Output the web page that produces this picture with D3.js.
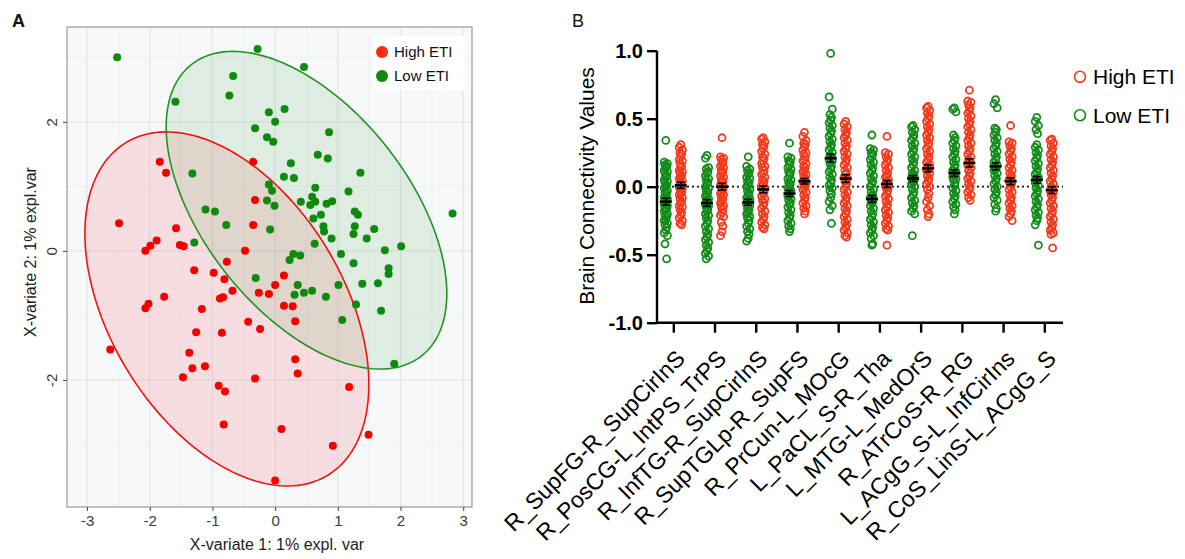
<!DOCTYPE html>
<html><head><meta charset="utf-8">
<script src="https://cdn.jsdelivr.net/npm/d3@7"></script>
<style>body{margin:0;background:#fff}svg{display:block;font-family:"Liberation Sans",Arial,sans-serif}</style>
</head><body>
<svg id="c" width="1185" height="559"></svg>
<script>
// ---------- Panel A data ----------
const xTicksA = [-3, -2, -1, 0, 1, 2, 3];
const yTicksA = [-2, 0, 2];
const groupsA = ["High ETI", "Low ETI"];
const highX = [-1.84,-1.74,-0.35,-0.32,-2.49,-1.58,-0.35,-1.89,-1.99,-2.07,-1.52,-1.46,-0.48,-0.77,-1.29,-0.98,-0.81,0.14,0.00,-0.68,-0.26,-0.10,-1.77,-2.02,-2.07,-0.88,-0.83,-1.17,0.14,0.28,0.32,-0.43,-0.24,-1.26,-0.85,-2.63,-1.37,-1.32,-1.12,-1.47,0.32,0.36,-0.32,-0.90,-0.80,1.18,-0.82,0.10,1.49,0.92,0.00];
const highY = [1.38,1.21,1.38,0.79,0.43,0.35,0.40,0.16,0.08,0.00,0.09,0.07,0.00,-0.17,-0.30,-0.34,-0.44,-0.38,-0.53,-0.62,-0.65,-0.67,-0.71,-0.82,-0.89,-0.74,-0.72,-0.90,-0.85,-0.86,-1.09,-1.10,-1.21,-1.26,-1.27,-1.53,-1.58,-1.82,-1.79,-1.96,-1.68,-1.90,-1.98,-2.09,-2.18,-2.11,-2.69,-2.76,-2.85,-3.02,-3.56];
const lowX = [-2.52,-0.28,0.46,-0.67,-1.59,-0.73,-0.10,0.15,0.00,-0.32,0.86,-0.13,-0.03,0.68,0.84,0.25,1.36,-1.32,0.14,0.30,-0.10,-0.05,0.64,1.17,-0.13,-0.01,0.41,0.59,0.56,0.64,0.82,0.91,-1.11,-0.96,1.27,1.32,0.61,0.73,-0.78,0.77,0.78,1.27,1.25,1.58,-0.08,2.83,0.90,1.46,-1.29,0.63,2.01,1.75,0.29,0.40,0.23,1.05,1.25,1.81,1.81,-0.31,0.36,1.39,1.64,1.01,0.31,0.46,0.59,0.81,1.29,1.69,1.07,1.90];
const lowY = [3.00,3.13,2.85,2.71,2.31,2.41,2.15,2.20,2.00,1.90,1.84,1.76,1.69,1.49,1.43,1.36,1.21,1.20,1.15,1.13,1.03,0.93,0.98,0.92,0.78,0.70,0.76,0.84,0.71,0.76,0.73,0.77,0.64,0.61,0.61,0.56,0.50,0.56,0.40,0.38,0.30,0.38,0.26,0.34,0.33,0.58,0.19,0.19,0.13,0.11,0.07,0.01,-0.05,-0.07,-0.14,-0.05,-0.19,-0.27,-0.36,-0.42,-0.53,-0.51,-0.50,-0.53,-0.68,-0.65,-0.62,-0.71,-0.83,-0.93,-1.07,-1.75];
// ellipse: centre x, centre y, var x, cov xy, var y (already scaled to boundary)
const highEllipse = [-0.77, -0.90, 5.13, -2.65, 7.53];
const lowEllipse = [0.50, 0.63, 5.01, -2.89, 6.06];

// ---------- Panel B data ----------
const categories = ["R_SupFG-R_SupCirInS","R_PosCG-L_IntPS_TrPS","R_InfTG-R_SupCirInS","R_SupTGLp-R_SupFS","R_PrCun-L_MOcG","L_PaCL_S-R_Tha","L_MTG-L_MedOrS","R_ATrCoS-R_RG","L_ACgG_S-L_InfCirIns","R_CoS_LinS-L_ACgG_S"];
const groupsB = ["High ETI", "Low ETI"];
const yTicksB = [-1.0, -0.5, 0.0, 0.5, 1.0];
const lowValues = [
 [0.34,0.18,0.17,0.16,0.15,0.14,0.12,0.11,0.10,0.08,0.07,0.05,0.04,0.03,0.01,0.00,-0.01,-0.03,-0.04,-0.05,-0.07,-0.08,-0.09,-0.10,-0.11,-0.12,-0.13,-0.14,-0.15,-0.16,-0.17,-0.18,-0.20,-0.21,-0.22,-0.24,-0.25,-0.27,-0.28,-0.30,-0.32,-0.34,-0.36,-0.42,-0.53],
 [0.23,0.21,0.14,0.13,0.11,0.10,0.08,0.06,0.05,0.03,0.02,0.00,-0.01,-0.03,-0.04,-0.06,-0.07,-0.09,-0.10,-0.11,-0.12,-0.13,-0.14,-0.15,-0.17,-0.18,-0.20,-0.21,-0.23,-0.25,-0.27,-0.29,-0.31,-0.33,-0.35,-0.37,-0.39,-0.41,-0.43,-0.45,-0.47,-0.49,-0.51,-0.53],
 [0.22,0.15,0.13,0.12,0.10,0.09,0.07,0.06,0.04,0.03,0.01,0.00,-0.02,-0.03,-0.05,-0.06,-0.08,-0.09,-0.10,-0.11,-0.12,-0.13,-0.14,-0.16,-0.17,-0.19,-0.20,-0.22,-0.23,-0.25,-0.27,-0.29,-0.31,-0.33,-0.35,-0.38,-0.40],
 [0.32,0.22,0.21,0.19,0.18,0.16,0.14,0.13,0.11,0.10,0.08,0.06,0.05,0.03,0.02,0.00,-0.01,-0.03,-0.04,-0.05,-0.06,-0.07,-0.09,-0.10,-0.12,-0.13,-0.15,-0.17,-0.19,-0.21,-0.23,-0.25,-0.27,-0.29,-0.31,-0.33],
 [0.98,0.66,0.57,0.53,0.51,0.49,0.47,0.45,0.43,0.41,0.39,0.37,0.35,0.33,0.31,0.29,0.27,0.25,0.23,0.22,0.21,0.20,0.19,0.17,0.15,0.13,0.11,0.09,0.07,0.05,0.03,0.01,-0.01,-0.03,-0.05,-0.08,-0.11,-0.14,-0.17,-0.27],
 [0.38,0.28,0.27,0.25,0.24,0.22,0.20,0.18,0.16,0.14,0.12,0.10,0.08,0.06,0.04,0.02,0.00,-0.02,-0.04,-0.06,-0.07,-0.08,-0.09,-0.10,-0.11,-0.12,-0.14,-0.16,-0.18,-0.20,-0.22,-0.24,-0.26,-0.28,-0.30,-0.32,-0.34,-0.36,-0.38,-0.42,-0.43],
 [0.45,0.44,0.42,0.40,0.38,0.36,0.34,0.32,0.30,0.28,0.26,0.24,0.22,0.20,0.18,0.16,0.14,0.12,0.10,0.09,0.08,0.07,0.06,0.05,0.04,0.03,0.02,0.00,-0.02,-0.04,-0.06,-0.08,-0.10,-0.12,-0.14,-0.16,-0.18,-0.20,-0.36],
 [0.58,0.57,0.55,0.38,0.36,0.34,0.32,0.30,0.28,0.26,0.24,0.22,0.20,0.18,0.16,0.14,0.12,0.11,0.10,0.09,0.08,0.07,0.06,0.05,0.03,0.01,-0.01,-0.03,-0.05,-0.07,-0.09,-0.11,-0.13,-0.15,-0.17,-0.20],
 [0.64,0.61,0.58,0.43,0.42,0.40,0.38,0.36,0.34,0.32,0.30,0.28,0.26,0.24,0.22,0.20,0.18,0.16,0.15,0.14,0.13,0.12,0.10,0.08,0.06,0.04,0.02,0.00,-0.02,-0.04,-0.06,-0.08,-0.10,-0.13,-0.16,-0.18],
 [0.51,0.48,0.45,0.42,0.39,0.31,0.29,0.27,0.25,0.23,0.21,0.19,0.17,0.15,0.13,0.11,0.09,0.07,0.06,0.05,0.04,0.03,0.01,-0.01,-0.03,-0.05,-0.07,-0.09,-0.11,-0.13,-0.15,-0.17,-0.19,-0.21,-0.23,-0.25,-0.28,-0.43]
];
const highValues = [
 [0.31,0.29,0.27,0.25,0.24,0.22,0.20,0.19,0.17,0.15,0.14,0.12,0.11,0.10,0.08,0.07,0.06,0.04,0.03,0.02,0.01,0.00,-0.01,-0.02,-0.04,-0.05,-0.06,-0.08,-0.09,-0.11,-0.12,-0.14,-0.15,-0.17,-0.19,-0.21,-0.23,-0.25,-0.27,-0.28],
 [0.36,0.22,0.21,0.20,0.18,0.17,0.15,0.14,0.12,0.11,0.10,0.08,0.07,0.05,0.04,0.03,0.01,0.00,-0.01,-0.02,-0.04,-0.05,-0.06,-0.08,-0.09,-0.11,-0.12,-0.14,-0.15,-0.17,-0.19,-0.21,-0.22,-0.26,-0.29,-0.33,-0.36],
 [0.36,0.35,0.33,0.31,0.30,0.28,0.26,0.24,0.22,0.21,0.19,0.17,0.15,0.14,0.12,0.10,0.09,0.07,0.05,0.04,0.02,0.01,-0.01,-0.02,-0.04,-0.05,-0.07,-0.09,-0.10,-0.12,-0.14,-0.16,-0.18,-0.20,-0.22,-0.24,-0.26,-0.28,-0.30,-0.31],
 [0.40,0.37,0.34,0.32,0.31,0.29,0.27,0.25,0.24,0.22,0.20,0.19,0.17,0.15,0.14,0.12,0.11,0.09,0.08,0.06,0.05,0.04,0.03,0.02,0.01,-0.01,-0.02,-0.04,-0.06,-0.08,-0.10,-0.12,-0.14,-0.16,-0.18,-0.20],
 [0.48,0.46,0.44,0.42,0.40,0.38,0.36,0.34,0.32,0.30,0.28,0.26,0.24,0.22,0.20,0.18,0.16,0.14,0.12,0.10,0.09,0.07,0.06,0.04,0.02,0.00,-0.02,-0.04,-0.06,-0.08,-0.10,-0.12,-0.14,-0.16,-0.18,-0.20,-0.22,-0.24,-0.26,-0.28,-0.30,-0.32,-0.34,-0.36,-0.37],
 [0.37,0.25,0.24,0.22,0.20,0.18,0.16,0.14,0.12,0.10,0.08,0.07,0.05,0.04,0.03,0.02,0.01,0.00,-0.01,-0.03,-0.05,-0.07,-0.09,-0.11,-0.13,-0.15,-0.17,-0.19,-0.21,-0.23,-0.25,-0.27,-0.29,-0.31,-0.32,-0.43],
 [0.59,0.58,0.56,0.54,0.52,0.50,0.48,0.46,0.44,0.42,0.40,0.38,0.36,0.34,0.32,0.30,0.28,0.26,0.24,0.22,0.20,0.18,0.16,0.15,0.14,0.13,0.12,0.10,0.08,0.06,0.04,0.02,0.00,-0.02,-0.05,-0.08,-0.11,-0.14,-0.17,-0.20,-0.22],
 [0.71,0.63,0.62,0.60,0.58,0.56,0.54,0.52,0.50,0.48,0.46,0.44,0.42,0.40,0.38,0.36,0.34,0.32,0.30,0.28,0.26,0.24,0.22,0.20,0.18,0.17,0.16,0.14,0.12,0.10,0.08,0.06,0.04,0.02,0.00,-0.02,-0.04,-0.06,-0.08,-0.10],
 [0.45,0.33,0.32,0.30,0.28,0.26,0.24,0.22,0.20,0.18,0.16,0.14,0.12,0.10,0.08,0.06,0.05,0.04,0.03,0.02,0.00,-0.02,-0.04,-0.06,-0.08,-0.10,-0.12,-0.14,-0.16,-0.18,-0.20,-0.22,-0.25],
 [0.35,0.34,0.32,0.30,0.28,0.26,0.24,0.22,0.20,0.18,0.16,0.14,0.12,0.10,0.08,0.06,0.04,0.02,0.00,-0.01,-0.02,-0.03,-0.04,-0.06,-0.08,-0.10,-0.12,-0.14,-0.16,-0.18,-0.20,-0.22,-0.24,-0.26,-0.28,-0.30,-0.32,-0.34,-0.35,-0.45]
];
const lowMean = [-0.11,-0.12,-0.115,-0.05,0.21,-0.09,0.06,0.10,0.15,0.05];
const lowSEM  = [0.025,0.025,0.022,0.022,0.03,0.025,0.022,0.025,0.025,0.025];
const highMean = [0.01,0.00,-0.02,0.04,0.06,0.02,0.135,0.175,0.04,-0.025];
const highSEM  = [0.022,0.025,0.025,0.02,0.028,0.025,0.025,0.03,0.025,0.025];

// ---------- Drawing ----------
const svg = d3.select("#c");
const FONT = '"Liberation Sans", Arial, sans-serif';

// ===== Panel A =====
const colA = {"High ETI": "#f40000", "Low ETI": "#0f8a0f"};
const xA = d3.scaleLinear().domain([-3.32, 3.14]).range([67, 472]);
const yA = d3.scaleLinear().domain([-3.97, 3.47]).range([507, 27]);
const gA = svg.append("g");
gA.append("rect").attr("x", 67).attr("y", 27).attr("width", 405).attr("height", 480).attr("fill", "#f6f8fa");
const xMinor = xTicksA.slice(0, -1).map((d, i) => (d + xTicksA[i + 1]) / 2);
const yMinor = [-3, -1, 1, 3];
gA.selectAll(".vminor").data(xMinor).join("line").attr("x1", d => xA(d)).attr("x2", d => xA(d)).attr("y1", 27).attr("y2", 507).attr("stroke", "#edf0f3").attr("stroke-width", 1);
gA.selectAll(".hminor").data(yMinor).join("line").attr("y1", d => yA(d)).attr("y2", d => yA(d)).attr("x1", 67).attr("x2", 472).attr("stroke", "#edf0f3").attr("stroke-width", 1);
gA.selectAll(".vmajor").data(xTicksA).join("line").attr("x1", d => xA(d)).attr("x2", d => xA(d)).attr("y1", 27).attr("y2", 507).attr("stroke", "#e2e7ec").attr("stroke-width", 1.2);
gA.selectAll(".hmajor").data(yTicksA).join("line").attr("y1", d => yA(d)).attr("y2", d => yA(d)).attr("x1", 67).attr("x2", 472).attr("stroke", "#e2e7ec").attr("stroke-width", 1.2);

function ellipsePts(e) {
  const [cx, cy, sxx, sxy, syy] = e;
  const l11 = Math.sqrt(sxx), l21 = sxy / l11, l22 = Math.sqrt(syy - l21 * l21);
  return d3.range(0, 361, 2).map(a => {
    const t = a * Math.PI / 180;
    return [xA(cx + l11 * Math.cos(t)), yA(cy + l21 * Math.cos(t) + l22 * Math.sin(t))];
  });
}
const line = d3.line();
const ellData = [["High ETI", highEllipse], ["Low ETI", lowEllipse]];
gA.selectAll(".ellf").data(ellData).join("path").attr("d", d => line(ellipsePts(d[1])) + "Z")
  .attr("fill", d => colA[d[0]]).attr("fill-opacity", 0.1).attr("stroke", "none");
gA.selectAll(".ells").data(ellData).join("path").attr("d", d => line(ellipsePts(d[1])) + "Z")
  .attr("fill", "none").attr("stroke", d => d[0] === "High ETI" ? "#f21010" : "#239323").attr("stroke-width", 1.6);

const ptsHigh = highX.map((x, i) => ({x, y: highY[i], g: "High ETI"}));
const ptsLow = lowX.map((x, i) => ({x, y: lowY[i], g: "Low ETI"}));
gA.selectAll(".pt").data(ptsHigh.concat(ptsLow)).join("circle")
  .attr("cx", d => xA(d.x)).attr("cy", d => yA(d.y)).attr("r", 4).attr("fill", d => colA[d.g]);

gA.append("rect").attr("x", 67).attr("y", 27).attr("width", 405).attr("height", 480).attr("fill", "none").attr("stroke", "#9a9a9a").attr("stroke-width", 1.2);

const axA_x = gA.append("g").attr("transform", "translate(0,507)")
  .call(d3.axisBottom(xA).tickValues(xTicksA).tickFormat(d => String(d)).tickSize(4).tickPadding(4));
axA_x.select(".domain").remove();
axA_x.selectAll("line").attr("stroke", "#444");
axA_x.selectAll("text").attr("font-size", 15).attr("fill", "#3a3a3a");
const axA_y = gA.append("g").attr("transform", "translate(67,0)")
  .call(d3.axisLeft(yA).tickValues(yTicksA).tickFormat(d => String(d)).tickSize(4).tickPadding(4));
axA_y.select(".domain").remove();
axA_y.selectAll("line").attr("stroke", "#444");
axA_y.selectAll(".tick text").attr("font-size", 15).attr("fill", "#3a3a3a")
  .attr("text-anchor", "middle").attr("x", null).attr("dy", "0.35em")
  .attr("transform", "translate(-15,0) rotate(-90)");

gA.append("text").attr("x", 277).attr("y", 550).attr("text-anchor", "middle").attr("font-size", 16).attr("fill", "#222").text("X-variate 1: 1% expl. var");
gA.append("text").attr("transform", "translate(30,252) rotate(-90)").attr("text-anchor", "middle").attr("dy", "0.35em").attr("font-size", 16).attr("fill", "#222").text("X-variate 2: 1% expl.var");
gA.append("text").attr("x", 12).attr("y", 27).attr("font-size", 18).attr("font-weight", "bold").attr("fill", "#111").text("A");

// legend A
const legA = gA.append("g");
legA.append("rect").attr("x", 373).attr("y", 36).attr("width", 92).attr("height", 54).attr("fill", "#fff");
groupsA.forEach((g, i) => {
  legA.append("circle").attr("cx", 382).attr("cy", 52 + i * 24).attr("r", 6).attr("fill", g === "High ETI" ? "#ff2a10" : "#0f8a0f");
  legA.append("text").attr("x", 394).attr("y", 52 + i * 24).attr("dy", "0.35em").attr("font-size", 15).attr("fill", "#111").text(g);
});

// ===== Panel B =====
const colB = {"High ETI": "#f23a1c", "Low ETI": "#138c19"};
const xB = d3.scalePoint().domain(categories).range([673.3, 1044.3]);
const yB = d3.scaleLinear().domain([-1, 1]).range([322.7, 50.7]);
const gB = svg.append("g");
const offB = {"Low ETI": -7.5, "High ETI": 7.5};
const jit = [0, -1.6, 1.6, -0.8, 0.8];

gB.append("line").attr("x1", 657).attr("x2", 1063).attr("y1", yB(0)).attr("y2", yB(0))
  .attr("stroke", "#111").attr("stroke-width", 1.8).attr("stroke-dasharray", "2,3");

const ptsB = [];
categories.forEach((c, ci) => {
  lowValues[ci].forEach((v, i) => ptsB.push({c, v, g: "Low ETI", i}));
  highValues[ci].forEach((v, i) => ptsB.push({c, v, g: "High ETI", i}));
});
gB.selectAll(".bp").data(ptsB).join("circle")
  .attr("cx", d => xB(d.c) + offB[d.g] + jit[d.i % 5]).attr("cy", d => yB(d.v)).attr("r", 3.5)
  .attr("fill", "none").attr("stroke", d => colB[d.g]).attr("stroke-width", 1.8);

const stats = [];
categories.forEach((c, ci) => {
  stats.push({c, g: "Low ETI", m: lowMean[ci], s: lowSEM[ci]});
  stats.push({c, g: "High ETI", m: highMean[ci], s: highSEM[ci]});
});
const sg = gB.selectAll(".st").data(stats).join("g").attr("transform", d => `translate(${xB(d.c) + offB[d.g]},0)`);
sg.append("line").attr("x1", 0).attr("x2", 0).attr("y1", d => yB(d.m + d.s)).attr("y2", d => yB(d.m - d.s)).attr("stroke", "#000").attr("stroke-width", 1.6);
sg.append("line").attr("x1", -4).attr("x2", 4).attr("y1", d => yB(d.m + d.s)).attr("y2", d => yB(d.m + d.s)).attr("stroke", "#000").attr("stroke-width", 1.6);
sg.append("line").attr("x1", -4).attr("x2", 4).attr("y1", d => yB(d.m - d.s)).attr("y2", d => yB(d.m - d.s)).attr("stroke", "#000").attr("stroke-width", 1.6);
sg.append("line").attr("x1", -6).attr("x2", 6).attr("y1", d => yB(d.m)).attr("y2", d => yB(d.m)).attr("stroke", "#000").attr("stroke-width", 2.6);

const axB_y = gB.append("g").attr("transform", "translate(657,0)")
  .call(d3.axisLeft(yB).tickValues(yTicksB).tickFormat(d => d.toFixed(1)).tickSize(10).tickPadding(4));
axB_y.select(".domain").attr("stroke", "#000").attr("stroke-width", 2.4).attr("d", `M0,${yB(1)}V${yB(-1)}`);
axB_y.selectAll("line").attr("stroke", "#000").attr("stroke-width", 2.4);
axB_y.selectAll("text").attr("font-size", 20).attr("font-weight", "bold").attr("fill", "#000");

const axB_x = gB.append("g").attr("transform", `translate(0,${yB(-1)})`)
  .call(d3.axisBottom(xB).tickSize(10).tickFormat(""));
axB_x.select(".domain").attr("stroke", "#000").attr("stroke-width", 2.4).attr("d", "M657,0H1063");
axB_x.selectAll("line").attr("stroke", "#000").attr("stroke-width", 2.4);
gB.selectAll(".catlab").data(categories).join("text")
  .attr("transform", d => `translate(${xB(d) + 13},360) rotate(-45)`)
  .attr("text-anchor", "end").attr("font-size", 23).attr("fill", "#000").text(d => d);

gB.append("text").attr("transform", "translate(587,186) rotate(-90)").attr("text-anchor", "middle").attr("dy", "0.35em")
  .attr("font-size", 21).attr("fill", "#000").text("Brain Connectivity Values");
gB.append("text").attr("x", 572).attr("y", 27).attr("font-size", 18).attr("fill", "#111").text("B");

groupsB.forEach((g, i) => {
  gB.append("circle").attr("cx", 1080).attr("cy", 76.7 + i * 38.5).attr("r", 5.5).attr("fill", "none").attr("stroke", colB[g]).attr("stroke-width", 1.6);
  gB.append("text").attr("x", 1093).attr("y", 76.7 + i * 38.5).attr("dy", "0.35em").attr("font-size", 21).attr("fill", "#000").text(g);
});
svg.selectAll("text").attr("font-family", FONT);
</script>
</body></html>
